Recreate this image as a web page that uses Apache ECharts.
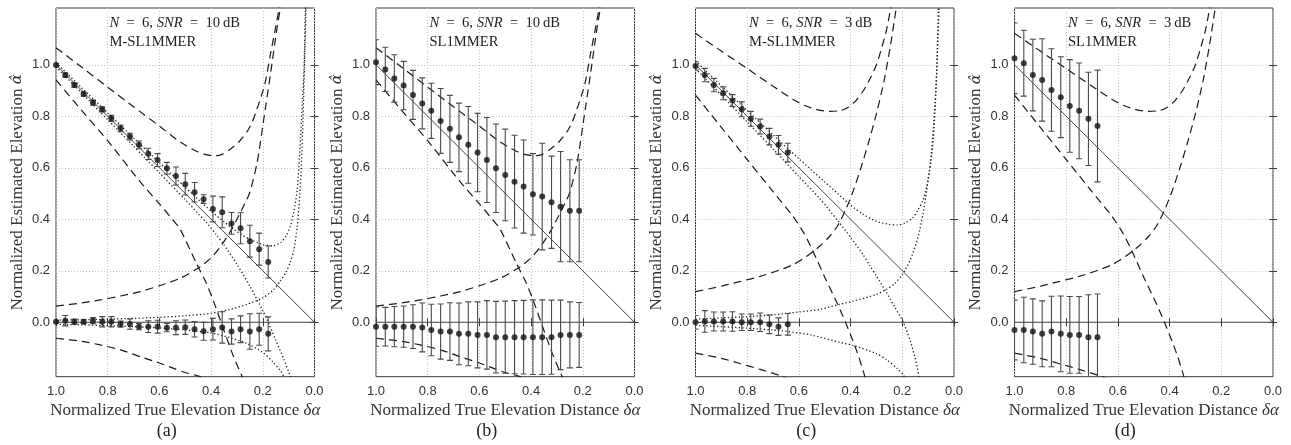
<!DOCTYPE html>
<html><head><meta charset="utf-8">
<script src="https://cdn.jsdelivr.net/npm/echarts@6/dist/echarts.min.js"></script>
<style>html,body{margin:0;padding:0;background:#fff}#c{width:1291px;height:445px}</style>
</head><body><div id="c"></div><script>
// ---------- data ----------
const xTicks = [0, 0.2, 0.4, 0.6, 0.8, 1.0];
const yTicks = [0, 0.2, 0.4, 0.6, 0.8, 1.0];
const panelCaptions = ['(a)', '(b)', '(c)', '(d)'];
const snrValues = ['10', '10', '3', '3'];
const methodNames = ['M-SL1MMER', 'SL1MMER', 'M-SL1MMER', 'SL1MMER'];

// reference lines (true elevation and zero)
const diagLine = [[1, 1], [0, 0]];
const zeroLine = [[1, 0], [0, 0]];

// x positions of the estimates
const xA = [1.000,0.964,0.929,0.893,0.857,0.821,0.786,0.750,0.714,0.679,0.643,0.607,0.571,0.536,0.500,0.464,0.429,0.393,0.357,0.321,0.286,0.250,0.214,0.179];
const xB = [1.000,0.964,0.929,0.893,0.857,0.821,0.786,0.750,0.714,0.679,0.643,0.607,0.571,0.536,0.500,0.464,0.429,0.393,0.357,0.321,0.286,0.250,0.214];
const xC = [1.000,0.964,0.929,0.893,0.857,0.821,0.786,0.750,0.714,0.679,0.643];
const xD = [1.000,0.964,0.929,0.893,0.857,0.821,0.786,0.750,0.714,0.679];

// (a) M-SL1MMER, 10 dB
const yTopA  = [0.999,0.960,0.921,0.886,0.853,0.827,0.792,0.753,0.721,0.689,0.654,0.630,0.598,0.568,0.536,0.505,0.478,0.440,0.427,0.384,0.365,0.315,0.284,0.234];
const eTopA  = [0.005,0.008,0.008,0.008,0.010,0.010,0.012,0.013,0.013,0.015,0.022,0.025,0.023,0.035,0.042,0.038,0.017,0.050,0.060,0.042,0.060,0.062,0.062,0.062];
const yZeroA = [0.002,0.006,0.002,0.002,0.006,0.002,0.002,-0.007,-0.007,-0.017,-0.017,-0.017,-0.021,-0.021,-0.019,-0.027,-0.035,-0.027,-0.020,-0.036,-0.027,-0.036,-0.027,-0.045];
const eZeroA = [0.005,0.020,0.010,0.008,0.012,0.020,0.020,0.012,0.020,0.012,0.023,0.025,0.016,0.027,0.028,0.030,0.035,0.042,0.061,0.049,0.052,0.069,0.062,0.066];

// (b) SL1MMER, 10 dB
const yTopB  = [1.010,0.982,0.947,0.919,0.883,0.850,0.821,0.782,0.751,0.718,0.689,0.659,0.630,0.598,0.572,0.546,0.527,0.497,0.488,0.466,0.449,0.433,0.433];
const eTopB  = [0.087,0.086,0.092,0.094,0.095,0.099,0.107,0.126,0.130,0.133,0.149,0.152,0.165,0.172,0.178,0.180,0.181,0.158,0.207,0.179,0.214,0.198,0.198];
const yZeroB = [-0.017,-0.017,-0.017,-0.017,-0.017,-0.020,-0.030,-0.036,-0.036,-0.045,-0.045,-0.049,-0.049,-0.058,-0.058,-0.058,-0.058,-0.058,-0.058,-0.058,-0.049,-0.049,-0.049];
const eZeroB = [0.076,0.075,0.078,0.080,0.085,0.095,0.100,0.107,0.112,0.120,0.124,0.128,0.133,0.139,0.140,0.142,0.143,0.145,0.145,0.144,0.135,0.128,0.126];

// (c) M-SL1MMER, 3 dB
const yTopC  = [0.995,0.960,0.921,0.889,0.861,0.827,0.790,0.760,0.721,0.689,0.659];
const eTopC  = [0.016,0.026,0.026,0.025,0.023,0.029,0.029,0.029,0.032,0.036,0.036];
const yZeroC = [0.000,0.003,0.003,0.003,0.003,0.000,0.000,0.000,-0.008,-0.017,-0.008];
const eZeroC = [0.026,0.042,0.037,0.037,0.038,0.032,0.032,0.036,0.036,0.034,0.042];

// (d) SL1MMER, 3 dB
const yTopD  = [1.025,1.006,0.960,0.941,0.902,0.874,0.840,0.821,0.790,0.762];
const eTopD  = [0.137,0.128,0.139,0.160,0.160,0.157,0.180,0.186,0.181,0.217];
const yZeroD = [-0.030,-0.030,-0.036,-0.045,-0.036,-0.045,-0.049,-0.049,-0.058,-0.058];
const eZeroD = [0.116,0.127,0.127,0.128,0.137,0.147,0.149,0.149,0.165,0.168];

// dashed bound curves, SNR = 10 dB
const dashTopUp10  = [[1.0,1.066],[0.9,0.99],[0.8,0.913],[0.7,0.837],[0.6,0.762],[0.52,0.70],[0.455,0.663],[0.42,0.651],[0.39,0.646],[0.36,0.651],[0.326,0.672],[0.29,0.703],[0.261,0.74],[0.24,0.78],[0.222,0.83],[0.205,0.88],[0.19,0.934],[0.171,1.038],[0.151,1.142],[0.138,1.213],[0.13,1.27]];
const dashTopLo10  = [[1.0,0.941],[0.9,0.822],[0.8,0.705],[0.674,0.545],[0.6,0.46],[0.55,0.4],[0.519,0.36],[0.455,0.225],[0.42,0.155],[0.39,0.08],[0.351,-0.03],[0.313,-0.134],[0.28,-0.211],[0.27,-0.24]];
const dashZeroUp10 = [[1.0,0.063],[0.9,0.075],[0.829,0.087],[0.75,0.102],[0.674,0.119],[0.6,0.142],[0.519,0.171],[0.442,0.216],[0.4,0.25],[0.364,0.294],[0.33,0.345],[0.3,0.4],[0.27,0.46],[0.25,0.505],[0.222,0.62],[0.196,0.79],[0.171,0.96],[0.145,1.142],[0.132,1.22],[0.125,1.27]];
const dashZeroLo10 = [[1.0,-0.062],[0.9,-0.074],[0.829,-0.088],[0.75,-0.107],[0.674,-0.134],[0.6,-0.158],[0.545,-0.179],[0.5,-0.195],[0.442,-0.211],[0.42,-0.222]];

// dashed bound curves, SNR = 3 dB
const dashTopUp3  = [[1.0,1.122],[0.9,1.053],[0.8,0.985],[0.7,0.917],[0.622,0.865],[0.58,0.843],[0.53,0.826],[0.48,0.819],[0.44,0.822],[0.41,0.834],[0.38,0.86],[0.35,0.9],[0.32,0.955],[0.3,1.0],[0.28,1.065],[0.261,1.135],[0.245,1.22],[0.235,1.28]];
const dashTopLo3  = [[1.0,0.882],[0.9,0.757],[0.8,0.632],[0.7,0.507],[0.622,0.41],[0.58,0.345],[0.545,0.275],[0.5,0.175],[0.45,0.07],[0.42,0.0],[0.39,-0.075],[0.37,-0.13],[0.351,-0.19],[0.345,-0.211],[0.335,-0.25]];
const dashZeroUp3 = [[1.0,0.119],[0.9,0.14],[0.829,0.158],[0.75,0.178],[0.674,0.203],[0.62,0.225],[0.571,0.255],[0.52,0.295],[0.48,0.335],[0.45,0.375],[0.42,0.435],[0.39,0.51],[0.36,0.6],[0.33,0.7],[0.3,0.81],[0.27,0.94],[0.245,1.08],[0.225,1.21],[0.215,1.28]];
const dashZeroLo3 = [[1.0,-0.12],[0.9,-0.14],[0.829,-0.16],[0.75,-0.183],[0.661,-0.211],[0.64,-0.22]];

// dotted bound curves, panel (a)
const dotTopUpA  = [[1,1.008],[0.9,0.91],[0.8,0.813],[0.7,0.716],[0.6,0.62],[0.5,0.524],[0.45,0.477],[0.4,0.432],[0.35,0.39],[0.3,0.352],[0.25,0.322],[0.2,0.302],[0.16,0.297],[0.13,0.31],[0.11,0.335],[0.093,0.375],[0.08,0.43],[0.067,0.514],[0.054,0.716],[0.047,0.85],[0.041,0.973],[0.035,1.213],[0.032,1.28]];
const dotTopLoA  = [[1,0.992],[0.9,0.89],[0.8,0.787],[0.7,0.684],[0.6,0.58],[0.5,0.476],[0.45,0.422],[0.416,0.385],[0.38,0.34],[0.35,0.3],[0.3,0.225],[0.25,0.14],[0.2,0.045],[0.183,0.009],[0.15,-0.07],[0.12,-0.14],[0.093,-0.211],[0.085,-0.235]];
const dotZeroUpA = [[1,0.008],[0.9,0.01],[0.8,0.012],[0.7,0.015],[0.6,0.019],[0.5,0.025],[0.4,0.035],[0.326,0.05],[0.26,0.07],[0.2,0.095],[0.16,0.125],[0.132,0.16],[0.11,0.195],[0.093,0.235],[0.08,0.28],[0.067,0.37],[0.058,0.48],[0.05,0.63],[0.044,0.8],[0.04,0.95],[0.036,1.1],[0.033,1.22],[0.031,1.28]];
const dotZeroLoA = [[1,-0.008],[0.9,-0.01],[0.8,-0.013],[0.7,-0.017],[0.6,-0.022],[0.5,-0.03],[0.4,-0.042],[0.326,-0.06],[0.26,-0.083],[0.196,-0.12],[0.16,-0.155],[0.13,-0.19],[0.119,-0.211],[0.11,-0.23]];

// dotted bound curves, panel (c)
const dotTopUpC  = [[1,1.015],[0.9,0.918],[0.8,0.822],[0.7,0.728],[0.6,0.635],[0.5,0.545],[0.45,0.5],[0.4,0.455],[0.35,0.418],[0.3,0.392],[0.25,0.38],[0.22,0.378],[0.19,0.385],[0.16,0.405],[0.14,0.435],[0.12,0.475],[0.105,0.53],[0.09,0.62],[0.08,0.715],[0.072,0.85],[0.067,0.973],[0.061,1.206],[0.058,1.28]];
const dotTopLoC  = [[1,0.985],[0.9,0.882],[0.8,0.778],[0.7,0.673],[0.6,0.566],[0.519,0.48],[0.442,0.385],[0.4,0.33],[0.35,0.26],[0.326,0.22],[0.3,0.18],[0.261,0.115],[0.23,0.06],[0.196,0.0],[0.17,-0.07],[0.15,-0.14],[0.135,-0.211],[0.13,-0.24]];
const dotZeroUpC = [[1,0.012],[0.9,0.017],[0.8,0.022],[0.7,0.029],[0.6,0.04],[0.519,0.05],[0.442,0.07],[0.39,0.082],[0.3,0.108],[0.261,0.128],[0.23,0.15],[0.2,0.185],[0.17,0.24],[0.145,0.31],[0.132,0.36],[0.12,0.42],[0.106,0.51],[0.09,0.63],[0.078,0.78],[0.068,0.95],[0.062,1.1],[0.058,1.21],[0.056,1.28]];
const dotZeroLoC = [[1,-0.012],[0.9,-0.017],[0.8,-0.023],[0.7,-0.03],[0.651,-0.035],[0.55,-0.05],[0.442,-0.078],[0.39,-0.09],[0.3,-0.122],[0.261,-0.145],[0.22,-0.18],[0.196,-0.205],[0.188,-0.225]];

// ---------- build the chart ----------
const panels = [
  {x: xA, yTop: yTopA, eTop: eTopA, yZero: yZeroA, eZero: eZeroA, dash: [dashTopUp10, dashTopLo10, dashZeroUp10, dashZeroLo10], dot: [dotTopUpA, dotTopLoA, dotZeroUpA, dotZeroLoA]},
  {x: xB, yTop: yTopB, eTop: eTopB, yZero: yZeroB, eZero: eZeroB, dash: [dashTopUp10, dashTopLo10, dashZeroUp10, dashZeroLo10], dot: null},
  {x: xC, yTop: yTopC, eTop: eTopC, yZero: yZeroC, eZero: eZeroC, dash: [dashTopUp3, dashTopLo3, dashZeroUp3, dashZeroLo3], dot: [dotTopUpC, dotTopLoC, dotZeroUpC, dotZeroLoC]},
  {x: xD, yTop: yTopD, eTop: eTopD, yZero: yZeroD, eZero: eZeroD, dash: [dashTopUp3, dashTopLo3, dashZeroUp3, dashZeroLo3], dot: null}
];

const yMin = -0.2114, yMax = 1.2204;
const lefts = [56, 376, 695.5, 1014.5];
const W = 258.5, TOP = 8, H = 368.7;
const SANS = 'Liberation Sans', SERIF = 'Liberation Serif';
const frame = '#3a3a3a';

const nameStyle = {
  fontFamily: SERIF, fontSize: 17, color: '#333',
  rich: {
    i: { fontFamily: SERIF, fontSize: 17, fontStyle: 'italic', color: '#333' },
    h: { fontFamily: 'DejaVu Serif', fontSize: 15, fontStyle: 'italic', color: '#333' }
  }
};
const tickLabel = { fontFamily: SANS, fontSize: 13, color: '#333' };

function renderBar(params, api) {
  const x = api.value(0), lo = api.value(1), hi = api.value(2);
  const a = api.coord([x, lo]), b = api.coord([x, hi]);
  const w = 3, st = { stroke: '#4a4a4a', lineWidth: 1.1 };
  return { type: 'group', children: [
    { type: 'line', shape: { x1: a[0], y1: a[1], x2: b[0], y2: b[1] }, style: st },
    { type: 'line', shape: { x1: a[0] - w, y1: a[1], x2: a[0] + w, y2: a[1] }, style: st },
    { type: 'line', shape: { x1: b[0] - w, y1: b[1], x2: b[0] + w, y2: b[1] }, style: st }
  ]};
}

const grid = [], xAxis = [], yAxis = [], series = [], title = [], graphic = [];
panels.forEach((p, i) => {
  const L = lefts[i];
  grid.push({ left: L, top: TOP, width: W, height: H, show: true, borderColor: frame, borderWidth: 1,
              backgroundColor: '#fff', containLabel: false, outerBoundsMode: 'none' });
  xAxis.push({ gridIndex: i, type: 'value', min: 0, max: 1, interval: 0.2, inverse: true, position: 'bottom',
    axisLine: { show: false },
    axisTick: { show: true, inside: true, length: 4, lineStyle: { color: frame } },
    axisLabel: Object.assign({ margin: 8, showMinLabel: true, showMaxLabel: true, formatter: v => v.toFixed(1) }, tickLabel),
    splitLine: { show: true, lineStyle: { color: '#c4c4c4', width: 1, type: [1, 2] } },
    name: 'Normalized True Elevation Distance {i|δα}', nameLocation: 'middle', nameGap: 25,
    nameTextStyle: nameStyle, nameMoveOverlap: false });
  xAxis.push({ gridIndex: i, type: 'value', min: 0, max: 1, interval: 0.2, inverse: true, position: 'top',
    axisLine: { show: false }, axisTick: { show: true, inside: true, length: 4, lineStyle: { color: frame } },
    axisLabel: { show: false }, splitLine: { show: false } });
  yAxis.push({ gridIndex: i, type: 'value', min: yMin, max: yMax, position: 'left',
    axisLine: { show: false },
    axisTick: { show: true, inside: true, length: 4, customValues: yTicks, lineStyle: { color: frame } },
    axisLabel: Object.assign({ margin: 6, customValues: yTicks, formatter: v => v.toFixed(1) }, tickLabel),
    splitLine: { show: true, lineStyle: { color: '#c4c4c4', width: 1, type: [1, 2] } },
    name: 'Normalized Estimated Elevation {h|α\u0302}', nameLocation: 'middle', nameGap: 30, nameRotate: 90,
    nameTextStyle: nameStyle, nameMoveOverlap: false });
  yAxis.push({ gridIndex: i, type: 'value', min: yMin, max: yMax, position: 'right',
    axisLine: { show: false },
    axisTick: { show: true, inside: true, length: 4, customValues: yTicks, lineStyle: { color: frame } },
    axisLabel: { show: false }, splitLine: { show: false } });

  const base = { xAxisIndex: 2 * i, yAxisIndex: 2 * i, silent: true, animation: false };
  series.push(Object.assign({ type: 'line', data: diagLine, symbol: 'none', lineStyle: { color: '#444', width: 1 }, z: 2 }, base));
  series.push(Object.assign({ type: 'line', data: zeroLine, symbol: 'none', lineStyle: { color: '#444', width: 1 }, z: 2 }, base));
  p.dash.forEach(d => series.push(Object.assign({ type: 'line', data: d, symbol: 'none', smooth: 0.25,
    lineStyle: { color: '#1a1a1a', width: 1.2, type: [8, 5] }, z: 3 }, base)));
  if (p.dot) p.dot.forEach(d => series.push(Object.assign({ type: 'line', data: d, symbol: 'none', smooth: 0.25,
    lineStyle: { color: '#222', width: 1.3, type: [1.3, 2.3] }, z: 3 }, base)));

  const bars = [], pts = [];
  p.x.forEach((x, k) => {
    bars.push([x, p.yTop[k] - p.eTop[k], p.yTop[k] + p.eTop[k]]);
    bars.push([x, p.yZero[k] - p.eZero[k], p.yZero[k] + p.eZero[k]]);
    pts.push([x, p.yTop[k]]);
    pts.push([x, p.yZero[k]]);
  });
  series.push(Object.assign({ type: 'custom', renderItem: renderBar, data: bars, clip: true, z: 4,
    encode: { x: 0, y: [1, 2] } }, base));
  series.push(Object.assign({ type: 'scatter', data: pts, symbol: 'circle', symbolSize: 6,
    itemStyle: { color: '#111' }, clip: true, z: 5 }, base));

  title.push({ text: '{i|N}\u2002=\u20026, {i|SNR}\u2002=\u2002' + snrValues[i] + '\u2009dB', left: L + 53.5, top: 16,
    padding: 0, textStyle: { fontFamily: SERIF, fontSize: 14.6, fontWeight: 'normal', color: '#222',
      rich: { i: { fontFamily: SERIF, fontSize: 14.6, fontStyle: 'italic', color: '#222' } } } });
  title.push({ text: methodNames[i], left: L + 53.5, top: 35, padding: 0,
    textStyle: { fontFamily: SERIF, fontSize: 14.6, fontWeight: 'normal', color: '#222' } });

  graphic.push({ type: 'text', x: L + W / 2 - 18.5, y: 431, silent: true,
    style: { text: panelCaptions[i], font: '18px "Liberation Serif"', fill: '#222',
             align: 'center', verticalAlign: 'middle', textAlign: 'center', textVerticalAlign: 'middle' } });
});

const chart = echarts.init(document.getElementById('c'), null, { renderer: 'canvas' });
chart.setOption({ animation: false, backgroundColor: '#fff', grid, xAxis, yAxis, series, title, graphic });
</script></body></html>
